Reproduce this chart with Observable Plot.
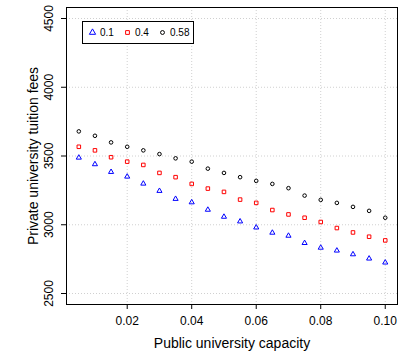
<!DOCTYPE html>
<html>
<head>
<meta charset="utf-8">
<script src="https://cdn.jsdelivr.net/npm/d3@7"></script>
<script src="https://cdn.jsdelivr.net/npm/@observablehq/plot@0.6"></script>
<style>
  html, body { margin: 0; padding: 0; background: #fff; }
  #wrap { position: relative; width: 412px; height: 354px; font-family: "Liberation Sans", Arial, sans-serif; }
  #legend { position: absolute; left: 82px; top: 21px; width: 112px; height: 23px; border: 1px solid #000; background: #fff;
    display: flex; align-items: center; font-size: 10px; color: #000; box-sizing: border-box; padding-left: 5px; }
  #legend .item { display: flex; align-items: center; width: 36px; }
  #legend svg { margin-right: 3px; }
</style>
</head>
<body>
<div id="wrap"></div>
<script>
// Data
const capacity = [0.005, 0.010, 0.015, 0.020, 0.025, 0.030, 0.035, 0.040, 0.045, 0.050,
                  0.055, 0.060, 0.065, 0.070, 0.075, 0.080, 0.085, 0.090, 0.095, 0.100];
const fees01  = [3488, 3440, 3384, 3350, 3299, 3246, 3188, 3163, 3109, 3058,
                 3024, 2980, 2942, 2920, 2867, 2833, 2812, 2785, 2754, 2725];
const fees04  = [3567, 3541, 3491, 3459, 3435, 3377, 3346, 3297, 3263, 3239,
                 3183, 3159, 3107, 3075, 3051, 3020, 2976, 2944, 2913, 2886];
const fees058 = [3679, 3647, 3599, 3567, 3541, 3514, 3483, 3459, 3408, 3377,
                 3346, 3319, 3297, 3266, 3212, 3181, 3159, 3130, 3101, 3051];
const seriesNames = ["0.1", "0.4", "0.58"];
const xTicks = [0.02, 0.04, 0.06, 0.08, 0.10];
const yTicks = [2500, 3000, 3500, 4000, 4500];

const series = [
  {name: seriesNames[0], values: fees01,  color: "#0000FF", symbol: "triangle", r: 1.9},
  {name: seriesNames[1], values: fees04,  color: "#FF0000", symbol: "square",   r: 2.0},
  {name: seriesNames[2], values: fees058, color: "#000000", symbol: "circle",   r: 1.8}
];
const rows = series.flatMap(s => capacity.map((c, i) => ({x: c, y: s.values[i], s: s.name})));

const gridStyle = {stroke: "#d0d0d0", strokeOpacity: 1, strokeDasharray: "1,2", strokeWidth: 1};

const chart = Plot.plot({
  width: 412,
  height: 354,
  marginLeft: 66,
  marginRight: 15,
  marginTop: 7,
  marginBottom: 50,
  style: {fontFamily: "Liberation Sans, Arial, sans-serif", fontSize: "12px", background: "#fff", color: "#000"},
  x: {domain: [0.00118, 0.1038]},
  y: {domain: [2420, 4580]},
  marks: [
    Plot.gridX(xTicks, gridStyle),
    Plot.gridY(yTicks, gridStyle),
    ...series.map(s => Plot.dot(rows.filter(d => d.s === s.name), {
      x: "x", y: "y", symbol: () => s.symbol, r: s.r, stroke: s.color, fill: "none", strokeWidth: 1
    })),
    Plot.frame({stroke: "#000", strokeWidth: 1}),
    Plot.axisX(xTicks, {tickSize: 5, tickPadding: 7, tickFormat: d3.format(".2f"), fontSize: 12,
      label: null, stroke: "#000"}),
    Plot.axisY(yTicks, {tickSize: 5, tickFormat: () => "", label: null, stroke: "#000"}),
    Plot.text(yTicks, {y: d => d, text: d => String(d), frameAnchor: "left", dx: -17, rotate: -90,
      textAnchor: "middle", lineAnchor: "middle", fontSize: 12, fill: "#000"}),
    Plot.text(["Public university capacity"], {frameAnchor: "bottom", dy: 39, textAnchor: "middle",
      lineAnchor: "middle", fontSize: 14, fill: "#000"}),
    Plot.text(["Private university tuition fees"], {frameAnchor: "left", dx: -33, rotate: -90,
      textAnchor: "middle", lineAnchor: "middle", fontSize: 14, fill: "#000"})
  ]
});

const wrap = document.getElementById("wrap");
wrap.appendChild(chart);

// Legend (HTML overlay)
const legend = document.createElement("div");
legend.id = "legend";
const symbolPaths = {
  triangle: d3.symbol(d3.symbolTriangle2, 28)(),
  square: d3.symbol(d3.symbolSquare2, 18)(),
  circle: d3.symbol(d3.symbolCircle, 12)()
};
for (const s of series) {
  const item = document.createElement("div");
  item.className = "item";
  item.innerHTML = `<svg width="9" height="9" viewBox="-4.5 -4.5 9 9"><path d="${symbolPaths[s.symbol]}" fill="none" stroke="${s.color}" stroke-width="1"/></svg><span>${s.name}</span>`;
  legend.appendChild(item);
}
wrap.appendChild(legend);
</script>
</body>
</html>
